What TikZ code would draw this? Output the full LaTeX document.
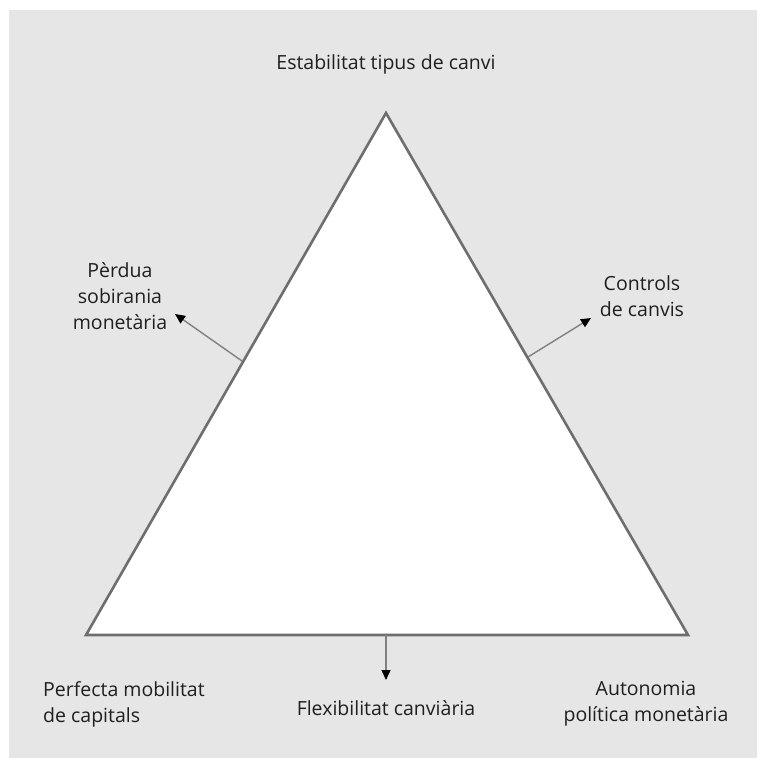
\documentclass[tikz,border=0pt]{standalone}
\usepackage{fontspec}
\setmainfont{Open Sans}
\usetikzlibrary{arrows.meta}
\definecolor{bggray}{HTML}{E6E6E6}
\definecolor{edgegray}{HTML}{6E6E6E}
\definecolor{arrgray}{HTML}{808080}
\tikzset{
  lbl/.style={font=\fontsize{19.5}{26}\selectfont, text=black!88, inner sep=0pt, align=center},
  lblleft/.style={lbl, align=left},
  conn/.style={draw=arrgray, line width=1.4pt, -{Triangle[length=10pt,width=9pt,fill=black,color=black]}}
}
\begin{document}
\begin{tikzpicture}[x=1pt,y=-1pt]
\useasboundingbox (0,0) rectangle (757,758);
\fill[white] (0,0) rectangle (757,758);
\fill[bggray] (9,10) rectangle (757,758);
\coordinate (A) at (386,113);
\coordinate (B) at (86,635);
\coordinate (C) at (688,635);
\fill[white] (A) -- (B) -- (C) -- cycle;
\draw[edgegray, line width=2.6pt, line join=miter] (A) -- (B) -- (C) -- cycle;
\coordinate (lstart) at (242,361);
\coordinate (lend) at (175,314);
\coordinate (rstart) at (528,357);
\coordinate (rend) at (591,318);
\coordinate (bstart) at (386,635);
\coordinate (bend) at (386,680);
\draw[conn] (lstart) -- (lend);
\draw[conn] (rstart) -- (rend);
\draw[conn] (bstart) -- (bend);
\node[lbl] (top) at (386,64) {Estabilitat tipus de canvi};
\node[lbl] (perdua) at (120,296) {Pèrdua\\sobirania\\monetària};
\node[lbl] (controls) at (642,296) {Controls\\de canvis};
\node[lblleft, anchor=west] (perf) at (43,704) {Perfecta mobilitat\\de capitals};
\node[lbl] (flex) at (386,708) {Flexibilitat canviària};
\node[lbl] (auto) at (646,704) {Autonomia\\política monetària};
\end{tikzpicture}
\end{document}
